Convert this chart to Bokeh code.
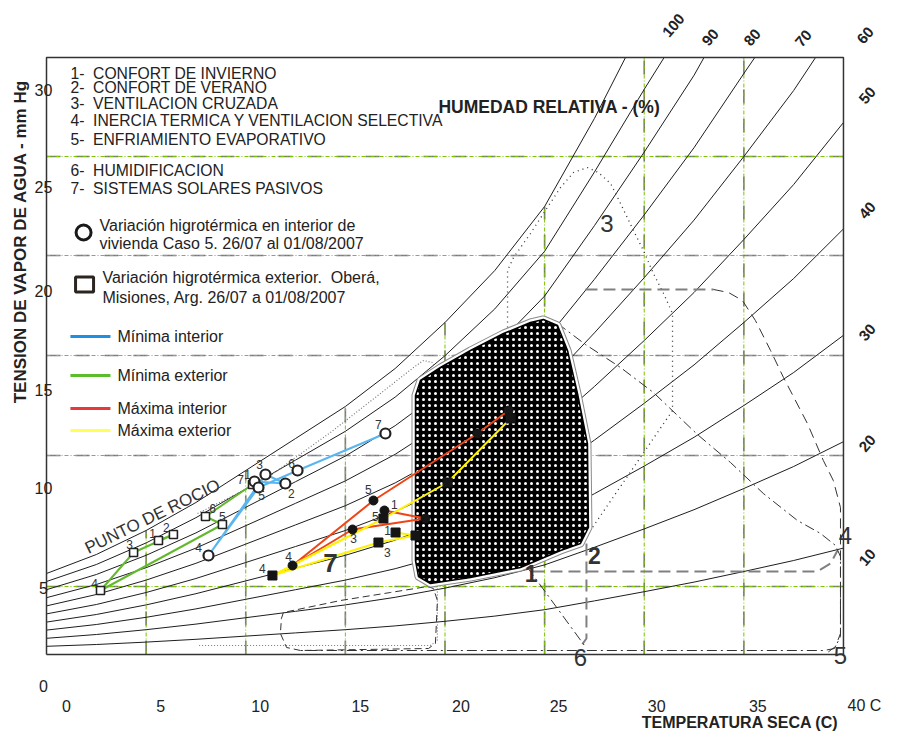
from bokeh.plotting import figure
from bokeh.models import Range1d, ColumnDataSource
from bokeh.core.properties import value
from bokeh.embed import file_html
from bokeh.resources import INLINE

FONT = value("Liberation Sans")

# ---------------- chart frame / grid (T in C, P in mm Hg) ----------------
frame_t = [0, 40]
frame_p = [0, 29.85]
grid_t = [5, 10, 15, 20, 25, 30, 35]
grid_t_top = [6.2, 9.2, 12.4, 16.6, 22.4, 29.85, 29.85]
grid_p = [3.4, 9.95, 14.95, 19.95, 24.9]

x_ticks = [0, 5, 10, 15, 20, 25, 30, 35, 40]
x_tick_labels = ["0", "5", "10", "15", "20", "25", "30", "35", "40 C"]
x_tick_dx = [20, 14.5, 14.5, 15, 16, 14, 12.5, 14, 21]
y_ticks = [0, 5, 10, 15, 20, 25, 30]
y_tick_labels = ["0", "5", "10", "15", "20", "25", "30"]
y_tick_dy = [31, 33, 33, 35, 36, 32, 35]

# ---------------- relative humidity curves ----------------
rh_t = [0, 2.5, 5, 7.5, 10, 12.5, 15, 17.5, 20, 22.5, 25, 27.5, 30, 32.5, 35, 37.5, 40]
rh100_t = rh_t[:12] + [29.06]
rh100_p = [4.05, 5.0, 6.2, 7.6, 9.2, 10.8, 12.4, 14.3, 16.6, 19.2, 22.4, 26.8, 29.85]
rh90_t = rh_t[:13] + [31.0]
rh90_p = [3.65, 4.5, 5.58, 6.84, 8.28, 9.72, 11.16, 12.87, 14.94, 17.28, 20.16, 24.12, 28.26, 29.85]
rh80_t = rh_t[:14] + [33.0]
rh80_p = [3.24, 4.0, 4.96, 6.08, 7.36, 8.64, 9.92, 11.44, 13.28, 15.36, 17.92, 21.44, 25.12, 28.96, 29.85]
rh70_t = rh_t[:15] + [35.55]
rh70_p = [2.84, 3.5, 4.34, 5.32, 6.44, 7.56, 8.68, 10.01, 11.62, 13.44, 15.68, 18.76, 21.98, 25.34, 29.05, 29.85]
rh60_t = rh_t[:16] + [38.6]
rh60_p = [2.43, 3.0, 3.72, 4.56, 5.52, 6.48, 7.44, 8.58, 9.96, 11.52, 13.44, 16.08, 18.84, 21.72, 24.9, 28.2, 29.85]
rh50_p = [2.03, 2.5, 3.1, 3.8, 4.6, 5.4, 6.2, 7.15, 8.3, 9.6, 11.2, 13.4, 15.7, 18.1, 20.75, 23.5, 26.6]
rh40_p = [1.62, 2.0, 2.48, 3.04, 3.68, 4.32, 4.96, 5.72, 6.64, 7.68, 8.96, 10.72, 12.56, 14.48, 16.6, 18.8, 21.28]
rh30_p = [1.22, 1.5, 1.86, 2.28, 2.76, 3.24, 3.72, 4.29, 4.98, 5.76, 6.72, 8.04, 9.42, 10.86, 12.45, 14.1, 15.96]
rh20_p = [0.81, 1.0, 1.24, 1.52, 1.84, 2.16, 2.48, 2.86, 3.32, 3.84, 4.48, 5.36, 6.28, 7.24, 8.3, 9.4, 10.64]
rh10_p = [0.41, 0.5, 0.62, 0.76, 0.92, 1.08, 1.24, 1.43, 1.66, 1.92, 2.24, 2.68, 3.14, 3.62, 4.15, 4.7, 5.32]

rh_labels = ["100", "90", "80", "70", "60", "50", "40", "30", "20", "10"]
rh_label_t = [31.47, 33.32, 35.43, 37.99, 41.1, 41.2, 41.2, 41.2, 41.2, 41.2]
rh_label_p = [31.45, 30.85, 30.85, 30.8, 30.95, 27.95, 22.2, 16.1, 10.55, 4.85]

# ---------------- bioclimatic zones ----------------
comfort_t = [18.52, 18.77, 19.77, 21.28, 22.94, 24.29, 24.94, 25.65, 26.15, 26.65, 27.15, 27.2,
             26.8, 25.8, 23.79, 21.28, 19.27, 18.67, 18.52]
comfort_p = [12.95, 13.7, 14.35, 15.2, 16.05, 16.6, 16.75, 16.45, 15.2, 13.05, 10.55, 6.35,
             5.55, 5.2, 4.35, 3.85, 3.55, 3.9, 4.7]
zone3_t = [23.14, 23.14, 23.44, 24.29, 25.14, 25.8, 26.45, 27.15, 27.7, 28.31, 28.81, 29.46,
           29.96, 30.46, 30.97, 31.42, 31.42, 27.4]
zone3_p = [16.35, 19.2, 19.85, 21.05, 22.35, 23.35, 24.1, 24.35, 24.1, 23.55, 22.55, 21.2,
           20.2, 19.05, 18.05, 17.05, 12.2, 6.35]
zone4_top_t = [27.05, 33.48]
zone4_top_p = [18.25, 18.25]
zone4_curve_t = [33.48, 34.23, 34.93, 35.58, 36.34, 36.99, 38.19, 38.99, 39.49, 39.85, 39.85, 39.6, 39.2]
zone4_curve_p = [18.25, 18.1, 17.7, 16.7, 15.2, 13.85, 11.55, 9.7, 8.7, 7.35, 1.05, 0.4, 0.1]
zone4_low_t = [24.39, 38.69, 39.35, 39.7]
zone4_low_p = [4.15, 4.15, 4.55, 5.2]
zone2_t = [27.1, 27.1, 26.85]
zone2_p = [5.55, 0.8, 0.45]
zone5_t = [25.65, 27.05, 28.81, 30.46, 32.67, 34.33, 35.98, 37.69, 38.85, 39.6, 39.85, 39.85,
           39.55, 39.0, 12.75]
zone5_p = [16.55, 15.5, 14.35, 13.1, 11.0, 9.6, 8.05, 6.7, 6.05, 5.45, 4.9, 0.9, 0.3, 0.2, 0.2]
zone6_t = [24.14, 27.0]
zone6_p = [4.35, 0.45]
zone7_t = [7.58, 10.89, 14.25, 16.76, 18.42, 18.92, 19.37, 19.57, 19.62, 19.62, 19.27, 7.58]
zone7_p = [7.05, 8.7, 11.1, 13.05, 14.35, 14.7, 14.6, 14.25, 13.85, 0.7, 0.45, 0.45]
zone7b_t = [11.89, 11.79, 11.74, 12.05, 12.75, 19.17, 19.52, 19.62, 19.42, 19.12, 17.26, 14.76, 11.89]
zone7b_p = [2.1, 1.8, 1.05, 0.35, 0.2, 0.3, 0.55, 2.7, 3.3, 3.4, 3.1, 2.7, 2.1]

zone_labels = ["1", "2", "3", "4", "5", "6", "7"]
zone_label_t = [24.33, 27.5, 28.13, 40.1, 39.85, 26.8, 14.25]
zone_label_p = [4.05, 4.95, 21.55, 5.95, -0.05, -0.15, 4.6]

# ---------------- measured series (days 1..7) ----------------
days = ["1", "2", "3", "4", "5", "6", "7"]
min_int_t = [10.44, 11.99, 10.99, 8.13, 10.64, 12.6, 17.01]
min_int_p = [8.65, 8.55, 9.0, 4.95, 8.35, 9.2, 11.05]
min_ext_t = [5.62, 6.37, 4.37, 2.71, 8.83, 7.98, 10.34]
min_ext_p = [5.7, 6.0, 5.1, 3.2, 6.5, 6.9, 8.5]
max_int_t = [16.96, 19.02, 15.36, 12.35, 16.41, 21.63, 23.19]
max_int_p = [7.2, 6.8, 6.25, 4.45, 7.7, 11.05, 12.2]
max_ext_t = [17.52, 18.52, 16.66, 11.34, 16.91, 20.13, 23.29]
max_ext_p = [6.1, 5.95, 5.6, 3.95, 6.8, 8.6, 11.8]

# label offsets (screen px) for the day numbers
min_int_dx = [-7, 6, -6, -10, 3, -6, -7]
min_int_dy = [-7, 10, -10, -8, 8, -7, -9]
min_ext_dx = [-6, -7, -4, -6, 0, 7, -12]
min_ext_dy = [-7, -7, -8, -7, -8, -8, -5]
max_int_lbl = ["1", "", "3", "4", "5", "", ""]
max_int_dx = [10, 0, 1, -4, -5, 0, 0]
max_int_dy = [-6, 0, 9, -9, -11, 0, 0]
max_ext_lbl = ["1", "", "3", "4", "5", "", ""]
max_ext_dx = [-8, 0, 9, -10, -8, 0, 0]
max_ext_dy = [-2, 0, 10, -7, -2, 0, 0]

NB = "\u00a0"
zone_names = ["1-" + NB + " CONFORT DE INVIERNO", "2-" + NB + " CONFORT DE VERANO",
              "3-" + NB + " VENTILACION CRUZADA",
              "4-" + NB + " INERCIA TERMICA Y VENTILACION SELECTIVA",
              "5-" + NB + " ENFRIAMIENTO EVAPORATIVO",
              "6-" + NB + " HUMIDIFICACION", "7-" + NB + " SISTEMAS SOLARES PASIVOS"]
zone_name_p = [29.05, 28.35, 27.55, 26.7, 25.75, 24.2, 23.3]

series_names = ["Mínima interior", "Mínima exterior", "Máxima interior", "Máxima exterior"]
series_colors = ["#1f8fe3", "#5cbd2c", "#e8383a", "#ffff55"]
series_line_colors = ["#5ab6ee", "#63b92e", "#f04414", "#fff200"]
series_leg_p = [15.9, 13.95, 12.3, 11.2]

# ---------------- figure ----------------
p = figure(width=888, height=733, x_range=Range1d(-2.309, 42.26), y_range=Range1d(-3.95, 32.7),
           output_backend="svg", toolbar_location=None, title=None,
           x_axis_location=None, y_axis_location=None, min_border=0)
p.outline_line_color = None
p.grid.visible = False
p.background_fill_color = "white"
p.border_fill_color = "white"


def txt(x, y, s, size, bold=False, align="left", baseline="middle", angle=0.0,
        color="#222222", xo=0, yo=0):
    p.text(x=x, y=y, text=s, text_font=FONT, text_font_size=size,
           text_font_style="bold" if bold else "normal", text_align=align,
           text_baseline=baseline, angle=angle, text_color=color, x_offset=xo, y_offset=yo)


# gridlines: grey dashes with green dash-dot
v_xs = [[t, t] for t in grid_t]
v_ys = [[frame_p[0], top] for top in grid_t_top]
h_xs = [[frame_t[0], frame_t[1]] for _ in grid_p]
h_ys = [[g, g] for g in grid_p]
for xs, ys in ((v_xs, v_ys), (h_xs, h_ys)):
    p.multi_line(xs=xs, ys=ys, line_color="#777777", line_width=1.6, line_dash="14 15")
    p.multi_line(xs=xs, ys=ys, line_color="#7cc400", line_width=1, line_dash="4 2 1 2")

# RH curves
curves_t = [rh100_t, rh90_t, rh80_t, rh70_t, rh60_t, rh_t, rh_t, rh_t, rh_t, rh_t]
curves_p = [rh100_p, rh90_p, rh80_p, rh70_p, rh60_p, rh50_p, rh40_p, rh30_p, rh20_p, rh10_p]
p.multi_line(xs=curves_t, ys=curves_p, line_color="#1e1e1e", line_width=1)

# zone boundaries
p.line(zone7_t, zone7_p, line_color="#777777", line_width=1.2, line_dash="1 2")
p.line(zone7b_t, zone7b_p, line_color="#333333", line_width=1, line_dash="7 4")
p.line(zone3_t, zone3_p, line_color="#333333", line_width=1.3, line_dash="1 4")
p.line(zone4_top_t, zone4_top_p, line_color="#808080", line_width=2, line_dash="12 6")
p.line(zone4_curve_t, zone4_curve_p, line_color="#333333", line_width=1, line_dash="10 6")
p.line(zone4_low_t, zone4_low_p, line_color="#808080", line_width=2, line_dash="12 6")
p.line(zone2_t, zone2_p, line_color="#808080", line_width=2, line_dash="12 6")
p.line(zone5_t, zone5_p, line_color="#333333", line_width=1, line_dash="10 4 2 4")
p.line(zone6_t, zone6_p, line_color="#333333", line_width=1, line_dash="10 4 2 4")

# comfort zone: black with white dots, grey outline
p.patch(comfort_t, comfort_p, fill_alpha=0, line_color="#8a8a8a", line_width=8, line_join="round")
p.patch(comfort_t, comfort_p, fill_alpha=0, line_color="white", line_width=6, line_join="round")
p.patch(comfort_t, comfort_p, fill_color="black", line_color="black", line_width=1.5,
        line_join="round", hatch_pattern="dot", hatch_color="white", hatch_scale=6,
        hatch_weight=1.5)

# frame
p.line([frame_t[0], frame_t[1], frame_t[1], frame_t[0], frame_t[0]],
       [frame_p[0], frame_p[0], frame_p[1], frame_p[1], frame_p[0]],
       line_color="#333333", line_width=1.5)

# measured series
p.line(min_ext_t, min_ext_p, line_color=series_line_colors[1], line_width=2)
p.line(min_int_t, min_int_p, line_color=series_line_colors[0], line_width=2)
p.line(max_int_t, max_int_p, line_color=series_line_colors[2], line_width=2)
p.line(max_ext_t, max_ext_p, line_color=series_line_colors[3], line_width=2)

p.scatter(min_ext_t, min_ext_p, marker="square", size=8, fill_color="white",
          line_color="#222222", line_width=1.6)
p.scatter(min_int_t, min_int_p, marker="circle", size=10, fill_color="white",
          line_color="#222222", line_width=2.2)
p.scatter(max_int_t, max_int_p, marker="circle", size=9, fill_color="#151515", line_color="#151515")
p.scatter(max_ext_t, max_ext_p, marker="square", size=9, fill_color="#151515", line_color="#151515")

for tt, pp, lab, dx, dy in ((min_int_t, min_int_p, days, min_int_dx, min_int_dy),
                            (min_ext_t, min_ext_p, days, min_ext_dx, min_ext_dy),
                            (max_int_t, max_int_p, max_int_lbl, max_int_dx, max_int_dy),
                            (max_ext_t, max_ext_p, max_ext_lbl, max_ext_dx, max_ext_dy)):
    src = ColumnDataSource(dict(x=tt, y=pp, t=lab, dx=dx, dy=dy))
    p.text(x="x", y="y", text="t", x_offset="dx", y_offset="dy", source=src, text_font=FONT,
           text_font_size="12px", text_color="#333333", text_align="center",
           text_baseline="middle")

# tick labels
txt(x_ticks, [-2.55] * len(x_ticks), x_tick_labels, "16px", align="center", xo=x_tick_dx)
txt([-0.15] * len(y_ticks), y_ticks, y_tick_labels, "16px", align="center", yo=y_tick_dy)

# axis titles
txt([34.93], [-3.4], ["TEMPERATURA SECA  (C)"], "16px", bold=True, align="center")
txt([-1.3], [20.65], ["TENSION DE VAPOR DE AGUA - mm Hg"], "17px", bold=True, align="center",
    angle=1.5708)
txt([19.67], [27.4], ["HUMEDAD RELATIVA - (%)"], "17.5px", bold=True)
txt([5.32], [6.9], ["PUNTO DE ROCIO"], "17px", align="center", angle=0.454, color="#333333")

# RH labels
txt(rh_label_t, rh_label_p, rh_labels, "15px", bold=True, align="center", angle=0.87)

# zone numbers
txt(zone_label_t[:2], zone_label_p[:2], zone_labels[:2], "23px", bold=True, align="center",
    color="#333333")
txt(zone_label_t[2:6], zone_label_p[2:6], zone_labels[2:6], "24px", align="center",
    color="#333333")
txt(zone_label_t[6:], zone_label_p[6:], zone_labels[6:], "26px", bold=True, align="center",
    color="#333333")

# legend: zone list
txt([1.2] * len(zone_names), zone_name_p, zone_names, "15.7px")

# legend: measured symbols
p.scatter([1.86], [21.1], marker="circle", size=15, fill_color="white", line_color="#1a1a1a",
          line_width=3)
txt([2.66, 2.66], [21.45, 20.55], ["Variación higrotérmica en interior de",
                                   "vivienda Caso 5. 26/07 al 01/08/2007"], "16px")
p.rect([1.91], [18.5], width=18, height=15, width_units="screen", height_units="screen",
       fill_color="white", line_color="#2a2520", line_width=3)
txt([2.81, 2.81], [18.85, 17.85], ["Variación higrotérmica exterior." + NB + " Oberá,",
                                   "Misiones, Arg. 26/07 a 01/08/2007"], "16px")

# legend: series lines
p.multi_line(xs=[[1.2, 3.21] for _ in series_leg_p], ys=[[v, v] for v in series_leg_p],
             line_color=series_colors, line_width=3)
txt([3.56] * 4, series_leg_p, series_names, "16px")

open("out.html", "w").write(file_html(p, INLINE))
